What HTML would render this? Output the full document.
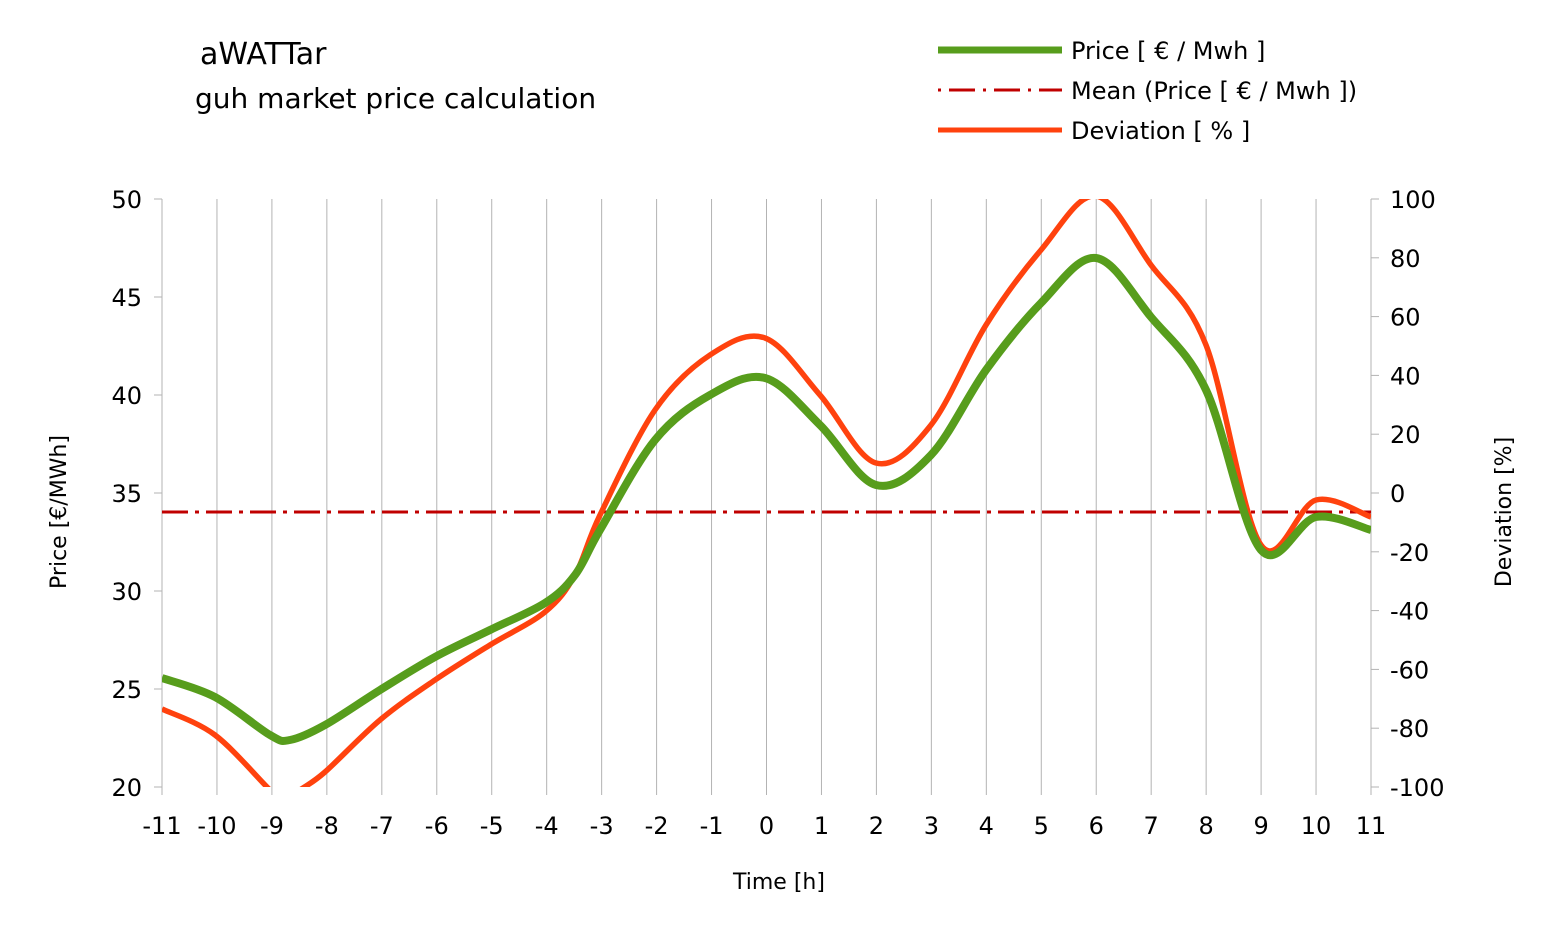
<!DOCTYPE html>
<html><head><meta charset="utf-8"><style>
html,body{margin:0;padding:0;background:#fff;}
svg{display:block;font-family:"DejaVu Sans","Liberation Sans",sans-serif;}
</style></head><body>
<svg id="s" width="1554" height="936" viewBox="0 0 1554 936" xmlns="http://www.w3.org/2000/svg">
<defs><clipPath id="c"><rect x="162" y="199" width="1209" height="588"/></clipPath></defs>
<g id="grid" stroke="#b3b3b3" stroke-width="1"></g>
<line x1="162" y1="199" x2="162" y2="787" stroke="#b3b3b3"/>
<line x1="1371" y1="199" x2="1371" y2="787" stroke="#b3b3b3"/>
<g id="ticks" stroke="#b3b3b3"></g>
<g id="labels" font-size="24" fill="#000"></g>
<line x1="162" y1="512" x2="1371" y2="512" stroke="#c00000" stroke-width="3" stroke-dasharray="26,7,4,7"/>
<g clip-path="url(#c)">
<path id="red" fill="none" stroke="#ff420e" stroke-width="5.5"/>
<path id="green" fill="none" stroke="#579d1c" stroke-width="8"/>
</g>
<text x="200" y="64" font-size="30">aWATTar</text>
<text x="195" y="108" font-size="28">guh market price calculation</text>
<line x1="938" y1="50" x2="1062" y2="50" stroke="#579d1c" stroke-width="7"/>
<line x1="938" y1="90" x2="1062" y2="90" stroke="#c00000" stroke-width="3" stroke-dasharray="3,8,26,8"/>
<line x1="938" y1="130" x2="1062" y2="130" stroke="#ff420e" stroke-width="5"/>
<text x="1071" y="59" font-size="24">Price [ € / Mwh ]</text>
<text x="1071" y="99" font-size="24">Mean (Price [ € / Mwh ])</text>
<text x="1071" y="139" font-size="24">Deviation [ % ]</text>
<text x="733" y="889" font-size="22">Time [h]</text>
<text transform="translate(66,512) rotate(-90)" text-anchor="middle" font-size="22">Price [€/MWh]</text>
<text transform="translate(1511,512) rotate(-90)" text-anchor="middle" font-size="22">Deviation [%]</text>
</svg>
<script>
var ns="http://www.w3.org/2000/svg";
function el(p,t,a,txt){var e=document.createElementNS(ns,t);for(var k in a)e.setAttribute(k,a[k]);if(txt!=null)e.textContent=txt;p.appendChild(e);return e;}
var g=document.getElementById('grid'),tk=document.getElementById('ticks'),lb=document.getElementById('labels');
for(var i=-11;i<=11;i++){var x=162+(i+11)*1209/22;
 if(i>-11&&i<11)el(g,'line',{x1:x,y1:199,x2:x,y2:787});
 el(tk,'line',{x1:x,y1:787,x2:x,y2:795});
 el(lb,'text',{x:x,y:834,'text-anchor':'middle'},String(i));}
for(var v=20;v<=50;v+=5){var y=787-(v-20)*19.6;
 el(tk,'line',{x1:154,y1:y,x2:162,y2:y});
 el(lb,'text',{x:142,y:y+9,'text-anchor':'end'},v);}
for(var v=-100;v<=100;v+=20){var y=787-(v+100)*2.94;
 el(tk,'line',{x1:1371,y1:y,x2:1379,y2:y});
 el(lb,'text',{x:1390,y:y+9},v);}
function path(p){var d='M'+p[0][0]+','+p[0][1];
 for(var i=0;i<p.length-1;i++){var p0=p[Math.max(i-1,0)],p1=p[i],p2=p[i+1],p3=p[Math.min(i+2,p.length-1)];
 d+=' C'+(p1[0]+(p2[0]-p0[0])/6)+','+(p1[1]+(p2[1]-p0[1])/6)+' '+(p2[0]-(p3[0]-p1[0])/6)+','+(p2[1]-(p3[1]-p1[1])/6)+' '+p2[0]+','+p2[1];}
 return d;}
var G=[[162,678],[215,697],[270,735],[290,740],[325,725],[380,690],[435,657],[490,630],[545,603],[575,575],[600,530],[655,440],[710,395],[765,378],[820,425],[876,485],[931,455],[986,370],[1041,303],[1096,258],[1151,317],[1206,390],[1261,550],[1316,517],[1371,530]];
var R=[[162,709],[215,735],[270,790],[285,802],[300,790],[325,772],[380,720],[435,680],[490,645],[545,612],[575,575],[600,515],[655,410],[710,355],[765,338],[820,395],[876,463],[931,425],[986,325],[1041,250],[1096,196],[1151,265],[1206,345],[1261,545],[1316,500],[1371,517]];
document.getElementById('green').setAttribute('d',path(G));
document.getElementById('red').setAttribute('d',path(R));
</script>
</body></html>
